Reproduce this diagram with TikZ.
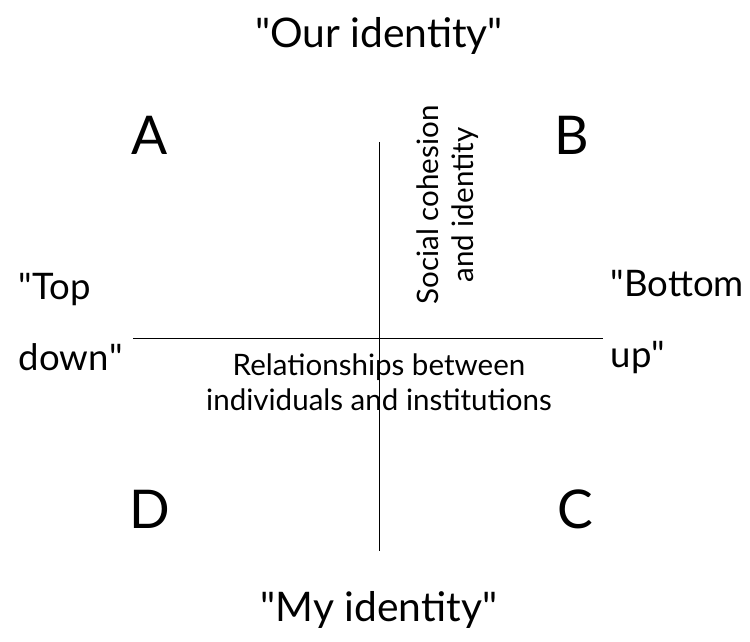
\documentclass[tikz,border=0pt]{standalone}
\usepackage{fontspec}
\setmainfont{Lato}
\begin{document}
\begin{tikzpicture}[x=0.025cm,y=-0.025cm]
		\useasboundingbox (0,0) rectangle (750,642);
		\tikzset{big/.style={font=\fontsize{29}{50}\selectfont},
		    side/.style={font=\fontsize{26}{50}\selectfont,align=left,anchor=west},
		    letter/.style={font=\fontsize{38}{44}\selectfont},
		    small/.style={font=\fontsize{21}{25}\selectfont,align=center}}
		\coordinate (vt) at (379,142);
		\coordinate (vb) at (379,551);
		\coordinate (hl) at (133,338);
		\coordinate (hr) at (603,338);
		\draw[] (vt)--(vb);
		\draw[] (hl)--(hr);
		\node[big] (our) at (379,36) {\textquotedbl Our identity\textquotedbl};
		\node[big] (my) at (379,610) {\textquotedbl My identity\textquotedbl};
		\node[letter] (A) at (150,135) {A};
		\node[letter] (B) at (572,135) {B};
		\node[letter] (D) at (150,509) {D};
		\node[letter] (C) at (575,509) {C};
		\node[side] (top) at (14,322) {\textquotedbl Top\\down\textquotedbl};
		\node[side] (bottom) at (606,322) {\textquotedbl Bottom\\up\textquotedbl};
		\node[small,rotate=90] (social) at (448,205) {Social cohesion\\and identity};
		\node[small] (rel) at (379,382) {Relationships between\\individuals and institutions};
	    \end{tikzpicture}
\end{document}
